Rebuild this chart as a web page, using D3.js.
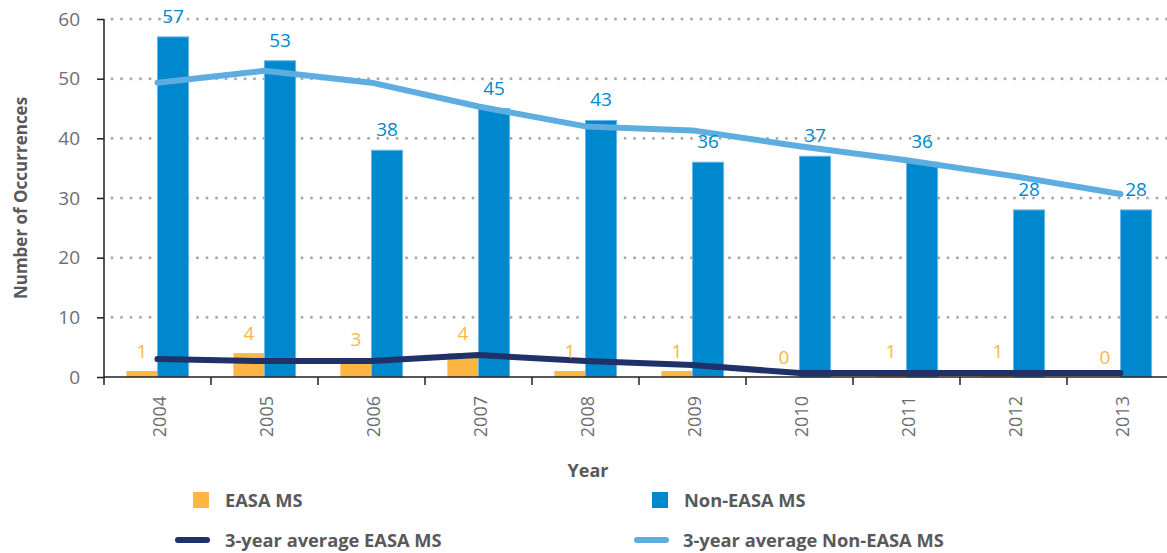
<!DOCTYPE html>
<html>
<head>
<meta charset="utf-8">
<script src="https://cdn.jsdelivr.net/npm/d3@7"></script>
<style>
  body { margin: 0; background: #fff; }
  .chart svg { display: block; font-family: "Open Sans", "Noto Sans", sans-serif; }
</style>
</head>
<body>
<div class="chart"></div>
<script>
/* Chart data */
const years = [2004, 2005, 2006, 2007, 2008, 2009, 2010, 2011, 2012, 2013];
const easa = [1, 4, 3, 4, 1, 1, 0, 1, 1, 0];
const nonEasa = [57, 53, 38, 45, 43, 36, 37, 36, 28, 28];
const avgEasa = [3, 2.67, 2.67, 3.67, 2.67, 2, 0.67, 0.67, 0.67, 0.67];
const avgNonEasa = [49.33, 51.33, 49.33, 45.33, 42, 41.33, 38.67, 36.33, 33.67, 30.67];
const yTicks = [0, 10, 20, 30, 40, 50, 60];
const seriesNames = ["EASA MS", "Non-EASA MS"];
const lineNames = ["3-year average EASA MS", "3-year average Non-EASA MS"];

const drawChart = () => {
  const w = 1167;
  const h = 553;
  const left = 104;
  const right = 1174;
  const top = 19;
  const bottom = 377;

  const orange = "#fdb643";
  const blue = "#0088ce";
  const navy = "#1f3168";
  const lightBlue = "#5dade0";
  const grey = "#6d6e71";
  const dark = "#58595b";

  /* Scales */
  const xScale = d3.scaleBand()
                  .domain(years)
                  .range([left, right])
                  .padding(0);

  const xInner = d3.scaleBand()
                  .domain(seriesNames)
                  .range([0, xScale.bandwidth()])
                  .paddingInner(0)
                  .paddingOuter(0.72);

  const yScale = d3.scaleLinear()
                  .domain([0, 60])
                  .range([bottom, top]);

  const svg = d3.select(".chart")
               .append("svg")
               .attr("width", w)
               .attr("height", h);

  /* Dotted gridlines */
  svg.append("g")
    .selectAll("line")
    .data(yTicks.filter(d => d > 0))
    .enter()
    .append("line")
    .attr("x1", left + 8)
    .attr("x2", w)
    .attr("y1", d => yScale(d))
    .attr("y2", d => yScale(d))
    .attr("stroke", "#a6a8ab")
    .attr("stroke-width", 3)
    .attr("stroke-linecap", "round")
    .attr("stroke-dasharray", "0 9.5");

  /* Bars */
  const barData = years.map((yr, i) => [
    { year: yr, key: seriesNames[0], value: easa[i] },
    { year: yr, key: seriesNames[1], value: nonEasa[i] }
  ]).flat();

  svg.append("g")
    .selectAll("rect")
    .data(barData)
    .enter()
    .append("rect")
    .attr("x", d => xScale(d.year) + xInner(d.key))
    .attr("y", d => yScale(d.value))
    .attr("width", xInner.bandwidth())
    .attr("height", d => bottom - yScale(d.value))
    .attr("fill", d => d.key === seriesNames[0] ? orange : blue)
    .attr("stroke", d => d.key === seriesNames[0] ? "none" : "#6ab6e6")
    .attr("stroke-width", 1);

  /* Axes */
  const yAxis = d3.axisLeft(yScale)
                 .tickValues(yTicks)
                 .tickSize(7)
                 .tickPadding(17);

  const gy = svg.append("g")
    .attr("transform", "translate(" + left + ",0)")
    .call(yAxis);
  gy.select(".domain").remove();
  gy.selectAll(".tick line").attr("stroke", "#231f20").attr("stroke-width", 1.5);
  gy.selectAll(".tick text")
    .attr("fill", grey)
    .attr("font-size", 19)
    .attr("font-family", "'Open Sans', sans-serif");

  gy.append("line")
    .attr("x1", 0).attr("x2", 0)
    .attr("y1", top).attr("y2", bottom + 8)
    .attr("stroke", "#231f20")
    .attr("stroke-width", 1.5);

  svg.append("line")
    .attr("x1", left).attr("x2", w)
    .attr("y1", bottom).attr("y2", bottom)
    .attr("stroke", "#231f20")
    .attr("stroke-width", 1.5);

  /* x ticks at band boundaries */
  svg.append("g")
    .selectAll("line")
    .data(years)
    .enter()
    .append("line")
    .attr("x1", d => xScale(d) + xScale.bandwidth())
    .attr("x2", d => xScale(d) + xScale.bandwidth())
    .attr("y1", bottom)
    .attr("y2", bottom + 8)
    .attr("stroke", "#231f20")
    .attr("stroke-width", 1.5);

  svg.append("g")
    .selectAll("text")
    .data(years)
    .enter()
    .append("text")
    .attr("transform", d => "translate(" + (xScale(d) + xScale.bandwidth() / 2 + 1) + "," + (bottom + 19) + ") rotate(-90)")
    .attr("text-anchor", "end")
    .attr("dominant-baseline", "central")
    .attr("fill", grey)
    .attr("font-size", 18)
    .text(d => d);

  /* Average lines */
  const line = d3.line()
                .x((d, i) => xScale(years[i]) + xScale.bandwidth() / 2)
                .y(d => yScale(d));

  svg.append("path")
    .datum(avgNonEasa)
    .attr("d", line)
    .attr("fill", "none")
    .attr("stroke", lightBlue)
    .attr("stroke-width", 6)
    .attr("stroke-linecap", "round")
    .attr("stroke-linejoin", "round");

  svg.append("path")
    .datum(avgEasa)
    .attr("d", line)
    .attr("fill", "none")
    .attr("stroke", navy)
    .attr("stroke-width", 6)
    .attr("stroke-linecap", "round")
    .attr("stroke-linejoin", "round");

  /* Value labels */
  svg.append("g")
    .selectAll("text")
    .data(barData)
    .enter()
    .append("text")
    .attr("x", d => xScale(d.year) + xInner(d.key) + xInner.bandwidth() / 2)
    .attr("y", d => yScale(d.value) - (d.key === seriesNames[0] ? 13 : 14))
    .attr("text-anchor", "middle")
    .attr("fill", d => d.key === seriesNames[0] ? orange : blue)
    .attr("font-size", 19)
    .text(d => d.value);

  /* Axis titles */
  svg.append("text")
    .attr("transform", "translate(20," + ((top + bottom) / 2) + ") rotate(-90)")
    .attr("text-anchor", "middle")
    .attr("dominant-baseline", "central")
    .attr("fill", dark)
    .attr("font-size", 17)
    .attr("font-weight", "bold")
    .text("Number of Occurrences");

  svg.append("text")
    .attr("x", 588)
    .attr("y", 477)
    .attr("text-anchor", "middle")
    .attr("fill", dark)
    .attr("font-size", 18)
    .attr("font-weight", "bold")
    .text("Year");

  /* Legend */
  const legend = svg.append("g");
  const boxes = [
    { name: seriesNames[0], color: orange, x: 193 },
    { name: seriesNames[1], color: blue, x: 652 }
  ];
  boxes.forEach(b => {
    legend.append("rect")
      .attr("x", b.x).attr("y", 492)
      .attr("width", 16).attr("height", 16)
      .attr("fill", b.color);
    legend.append("text")
      .attr("x", b.x + 32).attr("y", 507)
      .attr("fill", dark)
      .attr("font-size", 18.3)
      .attr("font-weight", "bold")
      .text(b.name);
  });

  const lineKeys = [
    { name: lineNames[0], color: navy, x: 175, tx: 225 },
    { name: lineNames[1], color: lightBlue, x: 634, tx: 683 }
  ];
  lineKeys.forEach(l => {
    legend.append("line")
      .attr("x1", l.x + 3).attr("x2", l.x + 32)
      .attr("y1", 540).attr("y2", 540)
      .attr("stroke", l.color)
      .attr("stroke-width", 6)
      .attr("stroke-linecap", "round");
    legend.append("text")
      .attr("x", l.tx).attr("y", 547)
      .attr("fill", dark)
      .attr("font-size", 18.3)
      .attr("font-weight", "bold")
      .text(l.name);
  });
};

drawChart();
</script>
</body>
</html>
